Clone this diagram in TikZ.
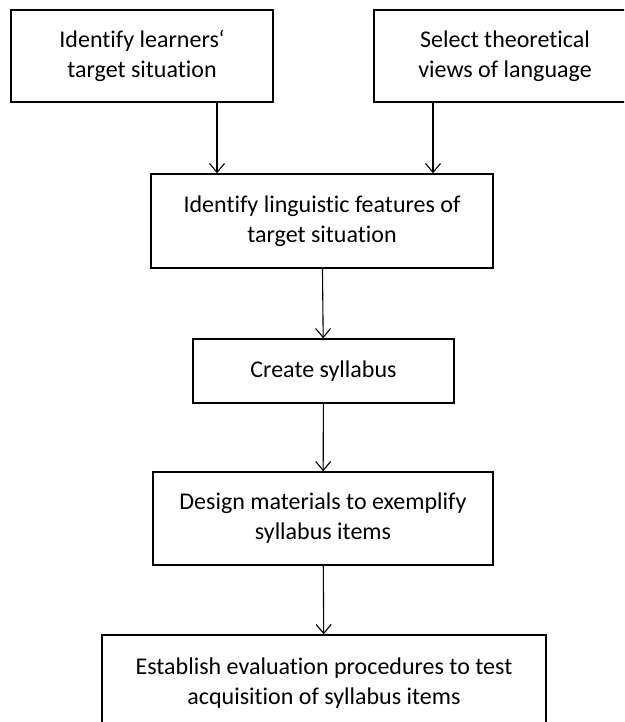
\documentclass[tikz,border=0pt]{standalone}
\usepackage{fontspec}
\setmainfont{Carlito}[Ligatures=NoCommon]
\usetikzlibrary{arrows.meta}

\begin{document}
\begin{tikzpicture}[x=1pt, y=-1pt,
	stagebox/.style={draw=black, line width=1.4pt, align=center, inner sep=0pt,
		font=\fontsize{24}{30}\selectfont},
	flowarrow/.style={line width=1.1pt, -{Straight Barb[length=9pt, width=15pt, line width=1.1pt]}}]
		%%%%% START %%%%%
		
		\clip (0, 0) rectangle (624, 722);
		\fill[white] (0, 0) rectangle (624, 722);
		
		\node[stagebox, minimum width=262pt, minimum height=92pt] (learners) at (142, 56) {Identify learners‘\\target situation};
		\node[stagebox, minimum width=262pt, minimum height=92pt] (views) at (505, 56) {Select theoretical\\views of language};
		
		\node[stagebox, minimum width=342pt, minimum height=94pt] (features) at (322, 221) {Identify linguistic features of\\target situation};
		\node[stagebox, minimum width=261pt, minimum height=64pt] (syllabus) at (323.5, 371) {Create syllabus};
		\node[stagebox, minimum width=340pt, minimum height=93pt] (materials) at (323, 518.5) {Design materials to exemplify\\syllabus items};
		\node[stagebox, minimum width=444pt, minimum height=96pt] (evaluation) at (324, 683) {Establish evaluation procedures to test\\acquisition of syllabus items};
		
		\coordinate (leftin) at (217, 0);
		\coordinate (rightin) at (433, 0);
		
		\draw[flowarrow] (learners.south -| leftin) -- (features.north -| leftin);
		\draw[flowarrow] (views.south -| rightin) -- (features.north -| rightin);
		\draw[flowarrow] (features) -- (syllabus);
		\draw[flowarrow] (syllabus) -- (materials);
		\draw[flowarrow] (materials) -- (evaluation);
		
		%%%%% END %%%%%
	\end{tikzpicture}
\end{document}
